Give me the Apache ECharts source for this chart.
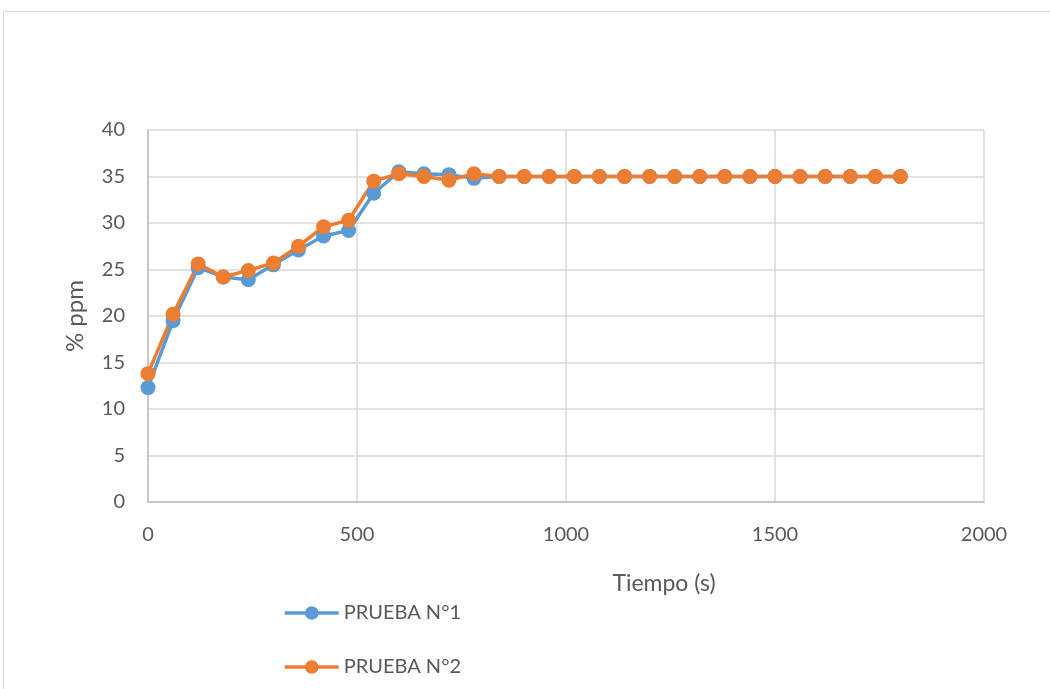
<!DOCTYPE html>
<html><head><meta charset="utf-8">
<script src="https://cdn.jsdelivr.net/npm/echarts@6/dist/echarts.min.js"></script>
<style>html,body{margin:0;padding:0;background:#fff}#c{width:1050px;height:689px}</style>
</head><body><div id="c"></div>
<script>
var times = [0,60,120,180,240,300,360,420,480,540,600,660,720,780,840,900,960,1020,1080,1140,1200,1260,1320,1380,1440,1500,1560,1620,1680,1740,1800];
var prueba1 = [12.3,19.5,25.2,24.2,23.9,25.5,27.1,28.6,29.2,33.2,35.5,35.3,35.2,34.8,35,35,35,35,35,35,35,35,35,35,35,35,35,35,35,35,35];
var prueba2 = [13.8,20.2,25.6,24.2,24.9,25.7,27.5,29.6,30.3,34.5,35.3,35.0,34.6,35.3,35,35,35,35,35,35,35,35,35,35,35,35,35,35,35,35,35];
var seriesNames = ['PRUEBA N°1','PRUEBA N°2'];
var xTitle = 'Tiempo (s)';
var yTitle = '% ppm';

function pairs(v){ return times.map(function(t,i){ return [t, v[i]]; }); }
var font = 'Lato, "Open Sans", sans-serif';
var chart = echarts.init(document.getElementById('c'));
chart.setOption({
  animation:false,
  backgroundColor:'#fff',
  graphic:[{type:'rect',shape:{x:3.5,y:11.5,width:1100,height:700},style:{fill:'none',stroke:'#d9d9d9',lineWidth:1}}],
  grid:{left:148,right:66,top:130,bottom:187,containLabel:false,show:false},
  legend:{orient:'vertical',left:278,top:598,itemWidth:54,itemHeight:17,itemGap:34,
    lineStyle:{width:3.5},
    textStyle:{fontFamily:font,fontSize:20,color:'#595959'},
    data:seriesNames},
  xAxis:{type:'value',min:0,max:2000,interval:500,
    name:xTitle,nameLocation:'middle',nameGap:70,
    nameTextStyle:{fontFamily:font,fontSize:23,color:'#595959',padding:[0,0,0,196]},
    axisLine:{show:true,lineStyle:{color:'#bfbfbf',width:1.5}},
    axisTick:{show:false},
    axisLabel:{fontFamily:font,fontSize:20,color:'#595959',margin:23,formatter:function(v){return String(v);}},
    splitLine:{show:true,lineStyle:{color:'#d9d9d9',width:1.5}}},
  yAxis:{type:'value',min:0,max:40,interval:5,
    name:yTitle,nameLocation:'middle',nameGap:61,nameRotate:90,
    nameTextStyle:{fontFamily:font,fontSize:24,color:'#595959'},
    axisLine:{show:true,lineStyle:{color:'#bfbfbf',width:1.5}},
    axisTick:{show:false},
    axisLabel:{fontFamily:font,fontSize:20,color:'#595959',margin:23},
    splitLine:{show:true,lineStyle:{color:'#d9d9d9',width:1.5}}},
  series:[
    {name:seriesNames[0],type:'line',data:pairs(prueba1),symbol:'circle',symbolSize:15,
     lineStyle:{color:'#5b9bd5',width:3.5},itemStyle:{color:'#5b9bd5'}},
    {name:seriesNames[1],type:'line',data:pairs(prueba2),symbol:'circle',symbolSize:15,
     lineStyle:{color:'#ed7d31',width:3.5},itemStyle:{color:'#ed7d31'}}
  ]
});
</script></body></html>
